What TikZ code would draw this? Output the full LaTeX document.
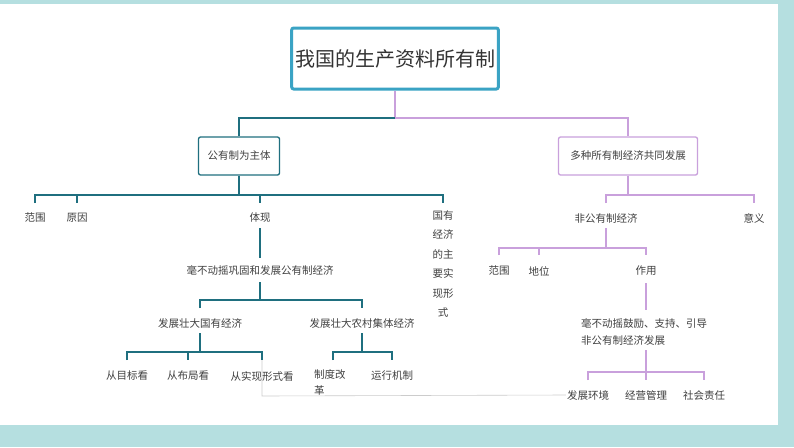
\documentclass[tikz,border=0pt]{standalone}
\usepackage{fontspec}
\setmainfont{Noto Sans CJK SC}
\begin{document}
\begin{tikzpicture}[x=1pt,y=-1pt,
  lbl/.style={text=black!75,font=\fontsize{10.5}{12}\selectfont,inner sep=1pt,anchor=center}]
\definecolor{bord}{RGB}{181,223,224}
\definecolor{dteal}{RGB}{31,111,127}
\definecolor{purp}{RGB}{201,160,220}
\useasboundingbox (0,0) rectangle (794,447);
\fill[bord] (0,0) rectangle (794,447);
\fill[white] (0,4) rectangle (778,425);
% root
\node[draw={rgb,255:red,58;green,163;blue,196},line width=3pt,rounded corners=2pt,minimum width=202pt,minimum height=61pt,font=\fontsize{20}{24}\selectfont,text=black!80] (root) at (395,58.5) {我国的生产资料所有制};
\node[draw=dteal,line width=1.3pt,rounded corners=2pt,minimum width=81pt,minimum height=38pt,lbl] (L) at (239,156) {公有制为主体};
\node[draw=purp,line width=1.3pt,rounded corners=2pt,minimum width=139pt,minimum height=38pt,lbl] (R) at (628,156) {多种所有制经济共同发展};
\coordinate (jr) at (395,118);
\draw[purp,line width=1.5pt] (root.south) -- (jr) -| (R.north);
\draw[dteal,line width=2.5pt] (jr) -| (L.north);
% left level
\node[lbl] (a1) at (35,218) {范围};
\node[lbl] (a2) at (77,218) {原因};
\node[lbl] (a3) at (260,218) {体现};
\node[lbl,anchor=north,align=center,font=\fontsize{10.5}{19.5}\selectfont] (a4) at (443,209) {国有\\经济\\的主\\要实\\现形\\式};
\begin{scope}[dteal,line width=1.2pt]
\draw (L.south) -- (239,195);
\draw (35,203) -- (35,195) -- (443,195) -- (443,203);
\draw (77,195) -- (77,203);
\draw (260,195) -- (260,203);
\end{scope}
\node[lbl] (b1) at (260,270) {毫不动摇巩固和发展公有制经济};
\node[lbl] (c1) at (200,323) {发展壮大国有经济};
\node[lbl] (c2) at (362,323) {发展壮大农村集体经济};
\node[lbl] (d1) at (127,376) {从目标看};
\node[lbl] (d2) at (188,376) {从布局看};
\node[lbl] (d3) at (262,376) {从实现形式看};
\node[lbl,align=left,anchor=north west,font=\fontsize{10.5}{16}\selectfont] (d4) at (313,368) {制度改\\革};
\node[lbl] (d5) at (392,376) {运行机制};
\begin{scope}[dteal,line width=1.2pt]
\draw (260,228) -- (260,258);
\draw (260,282) -- (260,300);
\draw (200,308) -- (200,300) -- (362,300) -- (362,308);
\draw (200,333) -- (200,352);
\draw (127,360) -- (127,352) -- (262,352) -- (262,360);
\draw (188,352) -- (188,360);
\draw (362,333) -- (362,352);
\draw (333,360) -- (333,352) -- (392,352) -- (392,360);
\end{scope}
% right
\node[lbl] (e1) at (606,218) {非公有制经济};
\node[lbl] (e2) at (754,218) {意义};
\node[lbl] (f1) at (499,271) {范围};
\node[lbl] (f2) at (539,271) {地位};
\node[lbl] (f3) at (646,271) {作用};
\node[lbl,align=left,anchor=west,font=\fontsize{10.5}{17}\selectfont] (g1) at (580,332) {毫不动摇鼓励、支持、引导\\非公有制经济发展};
\node[lbl] (h1) at (588,395) {发展环境};
\node[lbl] (h2) at (646,395) {经营管理};
\node[lbl] (h3) at (704,395) {社会责任};
\begin{scope}[purp,line width=1.2pt]
\draw (R.south) -- (628,195);
\draw (606,203) -- (606,195) -- (754,195) -- (754,203);
\draw (606,228) -- (606,248);
\draw (499,255) -- (499,248) -- (646,248) -- (646,255);
\draw (539,248) -- (539,255);
\draw (646,283) -- (646,310);
\draw (646,350) -- (646,372);
\draw (588,380) -- (588,372) -- (704,372) -- (704,380);
\draw (646,372) -- (646,380);
\end{scope}
\draw[black!20,line width=0.6pt] (262,360) -- (262,396) -- (h1.west);
\end{tikzpicture}
\end{document}
